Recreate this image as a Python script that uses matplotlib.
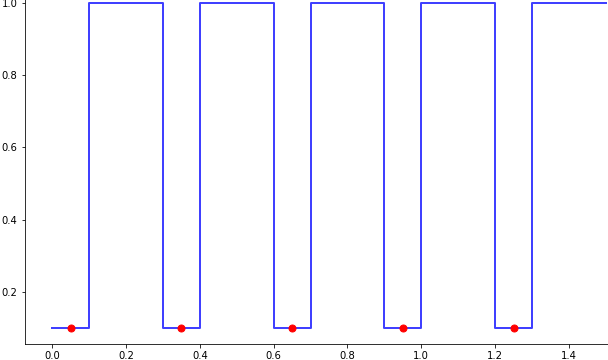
import matplotlib
matplotlib.use("Agg")
import matplotlib.pyplot as plt

# Step signal data
step_x = [0.0, 0.1, 0.3, 0.4, 0.6, 0.7, 0.9, 1.0, 1.2, 1.3, 1.5]
step_y = [0.1, 1.0, 0.1, 1.0, 0.1, 1.0, 0.1, 1.0, 0.1, 1.0, 1.0]

# Sample points
dot_x = [0.05, 0.35, 0.65, 0.95, 1.25]
dot_y = [0.1, 0.1, 0.1, 0.1, 0.1]

fig = plt.figure(figsize=(608 / 72, 360 / 72), dpi=72)
ax = fig.add_axes([24.5 / 608, 16 / 360, 609 / 608, 357.2 / 360])

ax.step(step_x, step_y, where="post", color="blue", alpha=0.75, linewidth=2)
ax.plot(dot_x, dot_y, "o", color="red", markersize=7)

ax.set_xlim(-0.075, 1.575)
ax.set_ylim(0.055, 1.045)
ax.set_xticks([0.0, 0.2, 0.4, 0.6, 0.8, 1.0, 1.2, 1.4])
ax.set_yticks([0.2, 0.4, 0.6, 0.8, 1.0])
ax.tick_params(labelsize=10)

fig.savefig("out.png", dpi=72)
